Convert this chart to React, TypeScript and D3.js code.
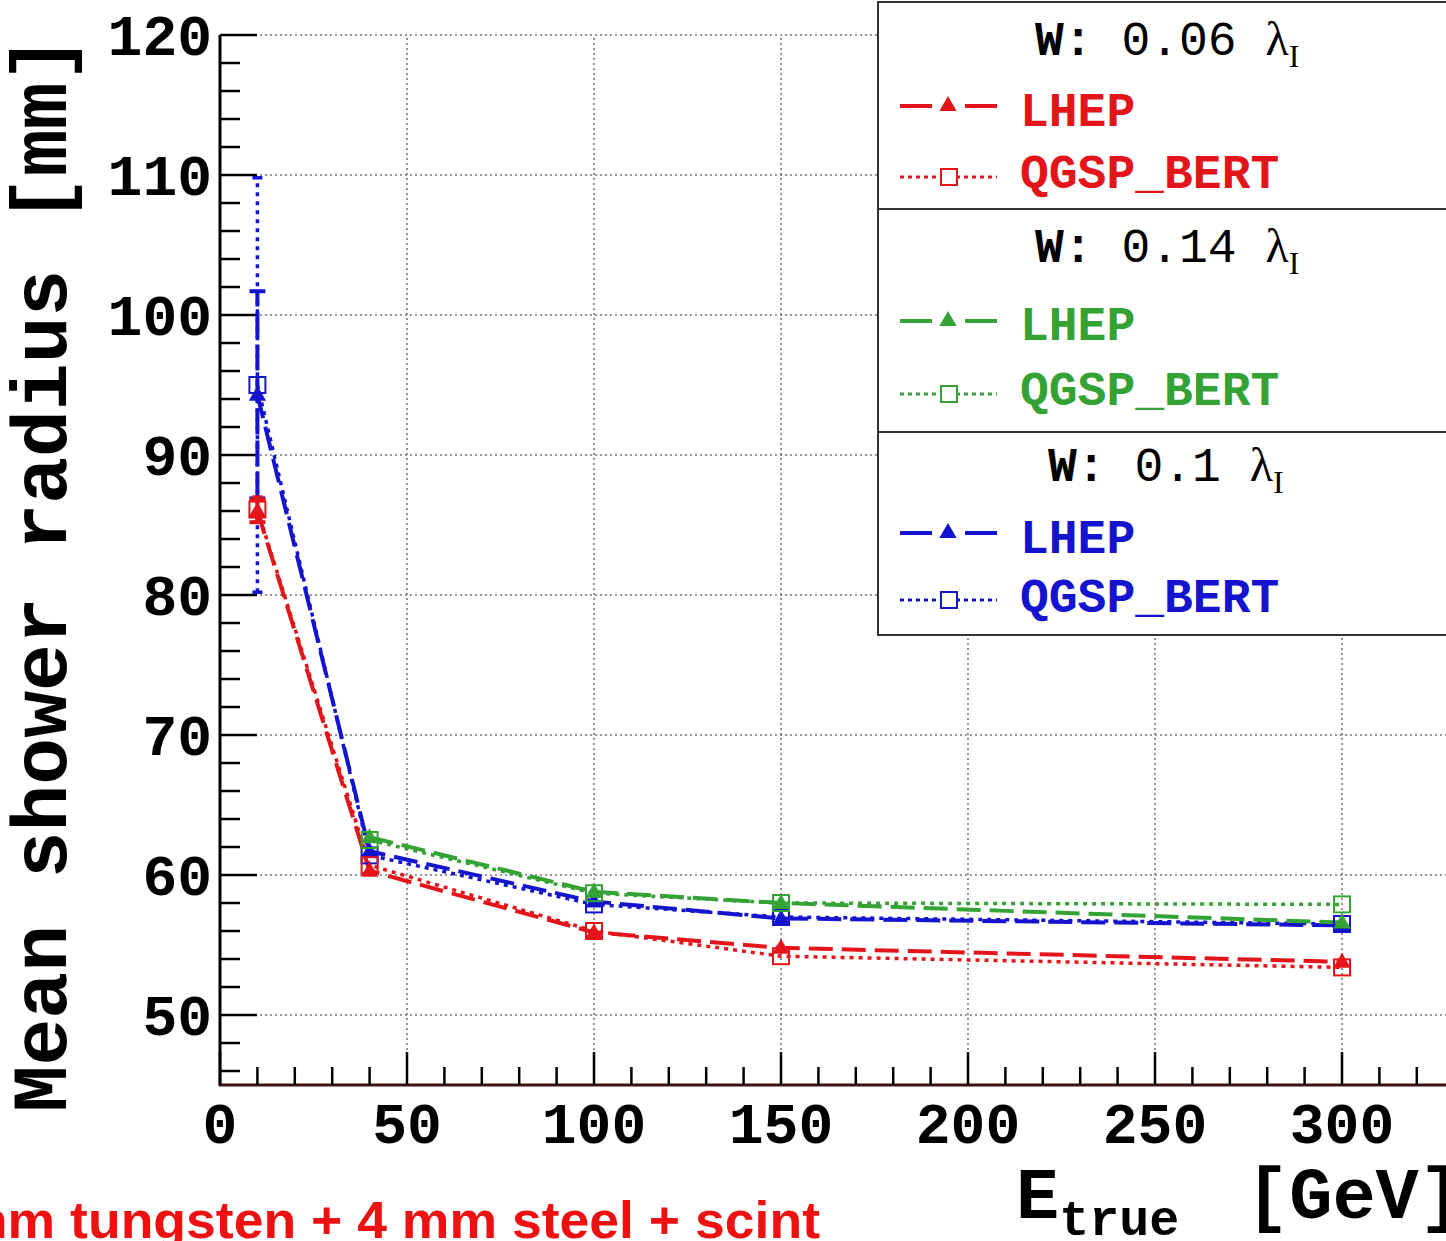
import React from "react";
import * as d3 from "d3";

// ---- data ----
const energies = [10, 40, 100, 150, 300];

const redLHEP: (number | null)[] = [86.0, 60.3, 55.9, 54.8, 53.8];
const redQGSP: (number | null)[] = [86.1, 60.7, 56.0, 54.2, 53.4];
const greenLHEP: (number | null)[] = [null, 62.7, 58.8, 58.0, 56.6];
const greenQGSP: (number | null)[] = [null, 62.5, 58.7, 58.0, 57.9];
const blueLHEP: (number | null)[] = [94.3, 61.7, 58.1, 56.9, 56.4];
const blueQGSP: (number | null)[] = [95.0, 61.4, 57.9, 57.0, 56.5];

const redLHEPErr = [0.8, 0, 0, 0, 0];
const redQGSPErr = [0.9, 0, 0, 0, 0];
const blueLHEPErr = [7.4, 0, 0, 0, 0];
const blueQGSPErr = [14.8, 0, 0, 0, 0];
const zeroErr = [0, 0, 0, 0, 0];

const xTicks = [0, 50, 100, 150, 200, 250, 300];
const yTicks = [50, 60, 70, 80, 90, 100, 110, 120];

const RED = "#e3151b";
const GREEN = "#35a235";
const BLUE = "#1414cf";

const legendGroups = [
  { title: "0.06", color: RED },
  { title: "0.14", color: GREEN },
  { title: "0.1", color: BLUE },
];

type Series = { vals: (number | null)[]; err: number[]; color: string; kind: "LHEP" | "QGSP" };

const W = 1446;
const H = 1241;

export default function App() {
  const x = d3.scaleLinear().domain([0, 330]).range([220, 220 + 330 * 3.74]);
  const y = d3.scaleLinear().domain([45, 120]).range([1085, 35]);

  const xMinor = d3.range(0, 331, 10).filter((v) => v % 50 !== 0);
  const yMinor = d3.range(46, 120, 2).filter((v) => v % 10 !== 0);

  const lineGen = d3
    .line<number | null>()
    .defined((v) => v !== null)
    .x((_, i) => x(energies[i]))
    .y((v) => y(v as number));

  const drawOrder: Series[] = [
    { vals: blueQGSP, err: blueQGSPErr, color: BLUE, kind: "QGSP" },
    { vals: blueLHEP, err: blueLHEPErr, color: BLUE, kind: "LHEP" },
    { vals: greenQGSP, err: zeroErr, color: GREEN, kind: "QGSP" },
    { vals: greenLHEP, err: zeroErr, color: GREEN, kind: "LHEP" },
    { vals: redQGSP, err: redQGSPErr, color: RED, kind: "QGSP" },
    { vals: redLHEP, err: redLHEPErr, color: RED, kind: "LHEP" },
  ];

  const tri = d3.symbol(d3.symbolTriangle, 130)() as string;
  const sq = 16;

  const mono = "'Liberation Mono', 'DejaVu Sans Mono', monospace";

  const legendRows = [
    { head: 55, lhep: 126, qgsp: 188, lineL: 106, lineQ: 177 },
    { head: 262, lhep: 340, qgsp: 405, lineL: 321, lineQ: 394 },
    { head: 481, lhep: 553, qgsp: 612, lineL: 533, lineQ: 600 },
  ];

  return (
    <svg
      width={W}
      height={H}
      style={{ position: "absolute", left: 0, top: 0, background: "#fff" }}
      fontFamily={mono}
    >
      <rect x={0} y={0} width={W} height={H} fill="#fff" />
      {/* grid */}
      <g stroke="#777" strokeWidth={1.6} strokeDasharray="2,3">
        {xTicks.filter((t) => t > 0).map((t) => (
          <line key={"gx" + t} x1={x(t)} x2={x(t)} y1={y(45)} y2={y(120)} />
        ))}
        {yTicks.map((t) => (
          <line key={"gy" + t} x1={x(0)} x2={W} y1={y(t)} y2={y(t)} />
        ))}
      </g>

      {/* axes */}
      <line x1={x(0)} x2={x(0)} y1={y(120)} y2={y(45) + 1} stroke="#000" strokeWidth={3} />
      <line x1={x(0) - 1} x2={W} y1={y(45)} y2={y(45)} stroke="#3a1212" strokeWidth={3} />
      <g stroke="#000" strokeWidth={2.5}>
        {yTicks.map((t) => (
          <line key={"ty" + t} x1={x(0)} x2={x(0) + 37} y1={y(t)} y2={y(t)} />
        ))}
        {yMinor.map((t) => (
          <line key={"tym" + t} x1={x(0)} x2={x(0) + 20} y1={y(t)} y2={y(t)} />
        ))}
        {xTicks.map((t) => (
          <line key={"tx" + t} x1={x(t)} x2={x(t)} y1={y(45)} y2={y(45) - 33} />
        ))}
        {xMinor.map((t) => (
          <line key={"txm" + t} x1={x(t)} x2={x(t)} y1={y(45)} y2={y(45) - 18} />
        ))}
      </g>

      {/* tick labels */}
      <g fontSize={58} fontWeight="bold" fill="#000">
        {yTicks.map((t) => (
          <text key={"ly" + t} x={212} y={y(t) + 20} textAnchor="end">
            {t}
          </text>
        ))}
        {xTicks.map((t) => (
          <text key={"lx" + t} x={x(t)} y={1143} textAnchor="middle">
            {t}
          </text>
        ))}
      </g>

      {/* axis titles */}
      <text
        transform="translate(66,574) rotate(-90)"
        textAnchor="middle"
        fontSize={78}
        fontWeight="bold"
        fill="#000"
      >
        Mean shower radius [mm]
      </text>
      <text x={1016} y={1218} fontWeight="bold" fill="#000" fontSize={72}>
        E
        <tspan fontSize={50} dy={17}>true</tspan>
        <tspan fontSize={72} dy={-17} x={1246}>[GeV]</tspan>
      </text>

      {/* error bars */}
      {drawOrder.map((s, si) =>
        s.vals.map((v, i) =>
          v !== null && s.err[i] > 0 ? (
            <g key={"e" + si + "-" + i} stroke={s.color} strokeWidth={s.kind === "LHEP" ? 4 : 3.5}>
              <line
                x1={x(energies[i])}
                x2={x(energies[i])}
                y1={y(v - s.err[i])}
                y2={y(v + s.err[i])}
                strokeDasharray={s.kind === "QGSP" ? "4,5" : "26,6"}
              />
              <line
                x1={x(energies[i]) - (s.kind === "LHEP" ? 8 : 5)}
                x2={x(energies[i]) + (s.kind === "LHEP" ? 8 : 5)}
                y1={y(v - s.err[i])}
                y2={y(v - s.err[i])}
              />
              <line
                x1={x(energies[i]) - (s.kind === "LHEP" ? 8 : 5)}
                x2={x(energies[i]) + (s.kind === "LHEP" ? 8 : 5)}
                y1={y(v + s.err[i])}
                y2={y(v + s.err[i])}
              />
            </g>
          ) : null
        )
      )}

      {/* lines */}
      {drawOrder.map((s, si) => (
        <path
          key={"l" + si}
          d={lineGen(s.vals) as string}
          fill="none"
          stroke={s.color}
          strokeWidth={s.kind === "LHEP" ? 4 : 3.5}
          strokeDasharray={s.kind === "LHEP" ? "24,9" : "4,5"}
        />
      ))}

      {/* markers */}
      {drawOrder.map((s, si) =>
        s.vals.map((v, i) =>
          v === null ? null : s.kind === "LHEP" ? (
            <path
              key={"m" + si + "-" + i}
              d={tri}
              transform={`translate(${x(energies[i])},${y(v) + 1})`}
              fill={s.color}
            />
          ) : (
            <rect
              key={"m" + si + "-" + i}
              x={x(energies[i]) - sq / 2}
              y={y(v) - sq / 2}
              width={sq}
              height={sq}
              fill="none"
              stroke={s.color}
              strokeWidth={2}
            />
          )
        )
      )}

      {/* legend */}
      <rect x={878} y={2} width={600} height={633} fill="#fff" stroke="#333" strokeWidth={2} />
      <line x1={878} x2={W} y1={209} y2={209} stroke="#333" strokeWidth={2} />
      <line x1={878} x2={W} y1={432} y2={432} stroke="#333" strokeWidth={2} />
      {legendGroups.map((g, gi) => {
        const r = legendRows[gi];
        const hx = g.title.length === 3 ? 1048 : 1035;
        return (
          <g key={"lg" + gi}>
            <text x={hx} y={r.head} fontSize={48} fill="#000">
              <tspan fontWeight="bold">W:</tspan>
              <tspan>{" " + g.title + " "}</tspan>
              <tspan fontFamily="'Liberation Serif', 'DejaVu Serif', serif" fontSize={48}>λ</tspan>
              <tspan fontSize={32} dy={12} fontFamily="'Liberation Serif', 'DejaVu Serif', serif">I</tspan>
            </text>
            {/* LHEP symbol */}
            <line x1={900} x2={932} y1={r.lineL} y2={r.lineL} stroke={g.color} strokeWidth={4} />
            <line x1={965} x2={997} y1={r.lineL} y2={r.lineL} stroke={g.color} strokeWidth={4} />
            <path d={tri} transform={`translate(948,${r.lineL})`} fill={g.color} />
            <text x={1020} y={r.lhep} fontSize={48} fontWeight="bold" fill={g.color}>
              LHEP
            </text>
            {/* QGSP symbol */}
            <line x1={900} x2={997} y1={r.lineQ} y2={r.lineQ} stroke={g.color} strokeWidth={3} strokeDasharray="4,4" />
            <rect x={941} y={r.lineQ - 8} width={16} height={16} fill="#fff" stroke={g.color} strokeWidth={2} />
            <text x={1020} y={r.qgsp} fontSize={48} fontWeight="bold" fill={g.color}>
              QGSP_BERT
            </text>
          </g>
        );
      })}

      {/* footer */}
      <text
        x={-40}
        y={1238}
        fontFamily="'Liberation Sans', Arial, sans-serif"
        fontWeight="bold"
        fontSize={52}
        fill="#ee1111"
        textLength={860}
        lengthAdjust="spacingAndGlyphs"
      >
        mm tungsten + 4 mm steel + scint
      </text>
    </svg>
  );
}
